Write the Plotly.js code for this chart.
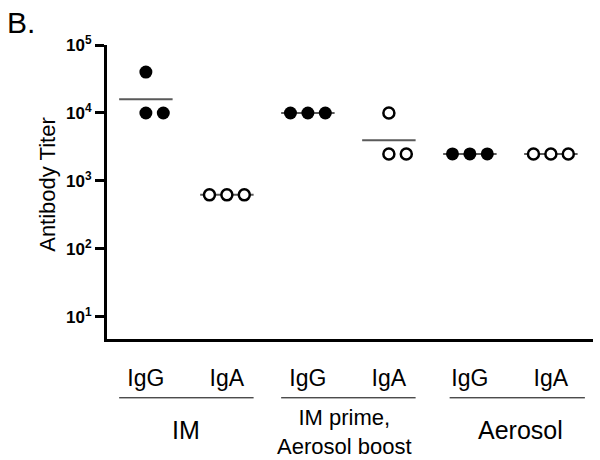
<!DOCTYPE html>
<html>
<head>
<meta charset="utf-8">
<script src="https://cdn.plot.ly/plotly-3.0.1.min.js"></script>
<style>html,body{margin:0;padding:0;background:#fff;}#chart{width:600px;height:460px;}</style>
</head>
<body>
<div id="chart"></div>
<script>
// ---- data ----
const categories = ['IgG', 'IgA', 'IgG', 'IgA', 'IgG', 'IgA'];
const groupLabels = ['IM', 'IM prime,<br>Aerosol boost', 'Aerosol'];
const imIgG = [40000, 10000, 10000];
const imIgA = [625, 625, 625];
const primeBoostIgG = [10000, 10000, 10000];
const primeBoostIgA = [10000, 2500, 2500];
const aerosolIgG = [2500, 2500, 2500];
const aerosolIgA = [2500, 2500, 2500];
const titers = [imIgG, imIgA, primeBoostIgG, primeBoostIgA, aerosolIgG, aerosolIgA];
const filled = [true, false, true, false, true, false];
const yTickVals = [10, 100, 1000, 10000, 100000];
const yTickText = ['10<sup>1</sup>', '10<sup>2</sup>', '10<sup>3</sup>', '10<sup>4</sup>', '10<sup>5</sup>'];
const yTitle = 'Antibody Titer';

// ---- build traces ----
const FONT = 'Liberation Sans, Arial, sans-serif';
const SPREAD = 0.215;
const HALF = 0.33;
const traces = [];
// mean lines (geometric mean)
titers.forEach((vals, i) => {
  const gm = Math.pow(10, vals.reduce((s, v) => s + Math.log10(v), 0) / vals.length);
  traces.push({
    x: [i - HALF, i + HALF], y: [gm, gm], mode: 'lines', type: 'scatter',
    line: {color: '#5a5a5a', width: 2}, hoverinfo: 'skip', showlegend: false
  });
});
// points: equal values placed side by side
titers.forEach((vals, i) => {
  const xs = [];
  const counts = {};
  vals.forEach(v => { counts[v] = (counts[v] || 0) + 1; });
  const seen = {};
  vals.forEach(v => {
    const k = seen[v] || 0; seen[v] = k + 1;
    const n = counts[v];
    xs.push(i + (k - Math.floor((n - 1) / 2)) * SPREAD);
  });
  traces.push({
    x: xs, y: vals, mode: 'markers', type: 'scatter', showlegend: false,
    marker: filled[i]
      ? {color: '#000', size: 13, line: {width: 0}}
      : {color: '#fff', size: 11, line: {color: '#000', width: 2.5}}
  });
});

// ---- group brackets and labels ----
const bracketX = [[-0.33, 1.33], [1.67, 3.33], [3.75, 5.42]];
const labelX = [0.5, 2.45, 4.63];
const shapes = [];
const annotations = [];
groupLabels.forEach((g, j) => {
  shapes.push({type: 'line', xref: 'x', yref: 'paper', x0: bracketX[j][0], x1: bracketX[j][1],
    y0: -0.2, y1: -0.2, line: {color: '#000', width: 1}});
  annotations.push({xref: 'x', yref: 'paper', x: labelX[j], y: j === 1 ? -0.318 : -0.31,
    xanchor: 'center', yanchor: 'middle',
    text: g, showarrow: false, font: {family: FONT, size: j === 1 ? 22 : 25, color: '#000'},
    align: 'center'});
});
annotations.push({xref: 'paper', yref: 'paper', x: -0.21, y: 1.078, xanchor: 'left', yanchor: 'middle',
  text: 'B.', showarrow: false, font: {family: FONT, size: 30, color: '#000'}});
annotations.push({xref: 'paper', yref: 'paper', x: -0.124, y: 0.527, xanchor: 'center', yanchor: 'middle',
  textangle: -90, text: yTitle, showarrow: false, font: {family: FONT, size: 22, color: '#000'}});

const layout = {
  width: 600, height: 460,
  margin: {l: 107, r: 7, t: 45, b: 121},
  paper_bgcolor: '#fff', plot_bgcolor: '#fff',
  font: {family: FONT, color: '#000'},
  xaxis: {
    range: [-0.48, 5.52], tickvals: [0, 1, 2, 3, 4, 5], ticktext: categories,
    showgrid: false, zeroline: false, showline: true, linecolor: '#000', linewidth: 3,
    ticks: '', ticklabelstandoff: 16, tickfont: {size: 23, color: '#000'}
  },
  yaxis: {
    type: 'log', range: [Math.log10(4.74), 5],
    tickvals: yTickVals, ticktext: yTickText,
    showgrid: false, zeroline: false, showline: true, linecolor: '#000', linewidth: 3,
    ticks: 'outside', ticklen: 9, tickwidth: 3, tickcolor: '#000',
    tickfont: {size: 17, color: '#000', weight: 'bold'}
  },
  shapes: shapes,
  annotations: annotations
};

Plotly.newPlot('chart', traces, layout, {staticPlot: true, displayModeBar: false});
</script>
</body>
</html>
